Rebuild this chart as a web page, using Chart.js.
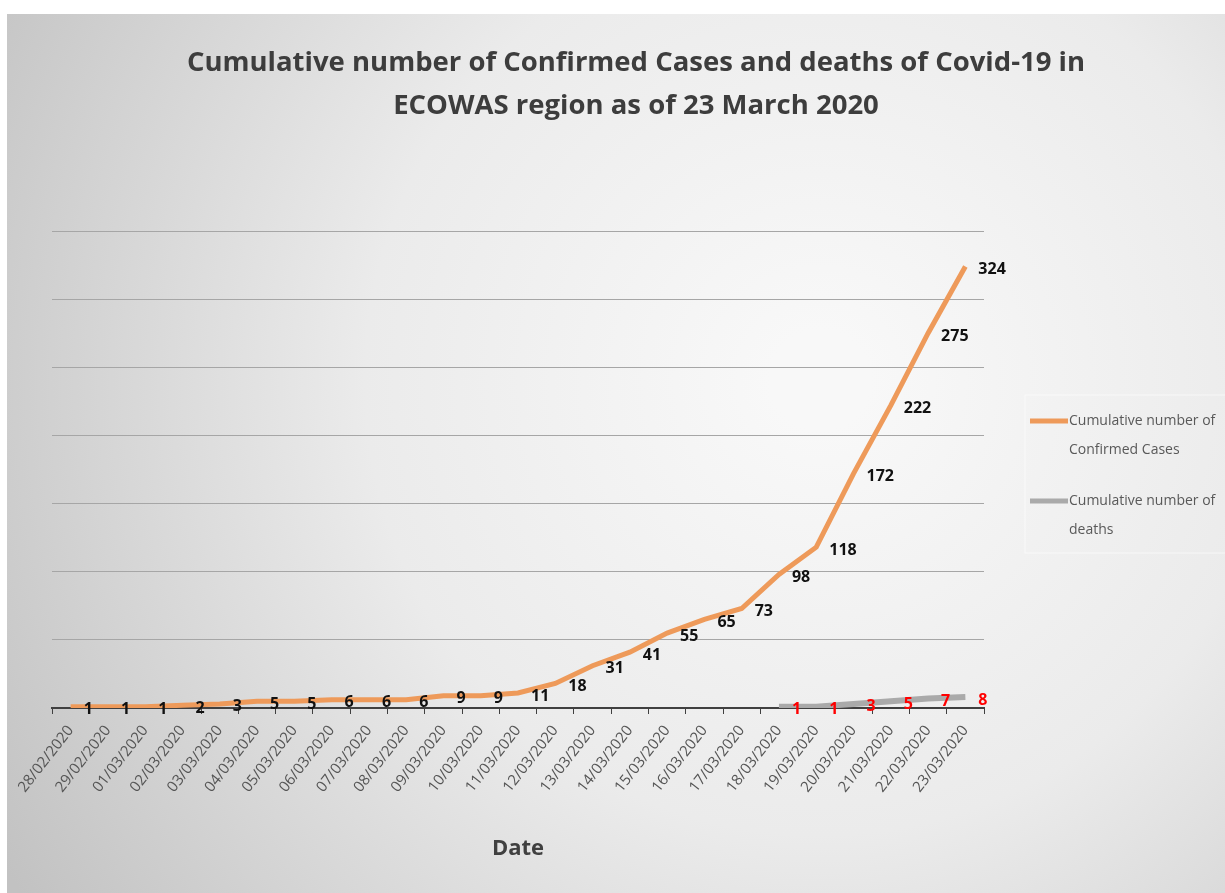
<!DOCTYPE html>
<html>
<head>
<meta charset="utf-8">
<title>ECOWAS Covid-19 cumulative cases</title>
<script src="https://cdn.jsdelivr.net/npm/chart.js@4"></script>
<style>
    html, body { margin: 0; padding: 0; background: #fff; }
    #wrap { width: 1225px; height: 893px; position: relative; }
</style>
</head>
<body>
<div id="wrap"><canvas id="covidChart"></canvas></div>
<script>
// dates on the x axis
const dates = [
    '28/02/2020', '29/02/2020', '01/03/2020', '02/03/2020', '03/03/2020',
    '04/03/2020', '05/03/2020', '06/03/2020', '07/03/2020', '08/03/2020',
    '09/03/2020', '10/03/2020', '11/03/2020', '12/03/2020', '13/03/2020',
    '14/03/2020', '15/03/2020', '16/03/2020', '17/03/2020', '18/03/2020',
    '19/03/2020', '20/03/2020', '21/03/2020', '22/03/2020', '23/03/2020'
];
const confirmedCases = [1, 1, 1, 2, 3, 5, 5, 6, 6, 6, 9, 9, 11, 18, 31, 41, 55, 65, 73, 98, 118, 172, 222, 275, 324];
// deaths only start on 18/03
const deaths = [null, null, null, null, null, null, null, null, null, null,
    null, null, null, null, null, null, null, null, null, 1, 1, 3, 5, 7, 8];
const seriesNames = [
    ['Cumulative number of', 'Confirmed Cases'],
    ['Cumulative number of', 'deaths']
];
const titleLines = [
    'Cumulative number of Confirmed Cases and deaths of Covid-19 in',
    'ECOWAS region as of 23 March 2020'
];
const yMax = 350;
const yStep = 50;

const ORANGE = '#EE9A5A';
const GREY = '#AAAAAA';
const FONT = "'Open Sans', 'Noto Sans', sans-serif";

// background + title + legend + point labels, all drawn on the canvas
const decor = {
    id: 'decor',
    beforeDraw(chart) {
        const { ctx, width, height } = chart;
        ctx.save();
        ctx.fillStyle = '#fff';
        ctx.fillRect(0, 0, width, height);
        const g = ctx.createRadialGradient(820, 380, 50, 820, 380, 950);
        g.addColorStop(0, '#f8f8f8');
        g.addColorStop(0.45, '#ebebeb');
        g.addColorStop(1, '#c2c2c2');
        ctx.fillStyle = g;
        ctx.fillRect(7, 14, width - 7, height - 14);
        ctx.restore();
    },
    afterDatasetsDraw(chart) {
        const ctx = chart.ctx;
        ctx.save();
        ctx.font = 'bold 16px ' + FONT;
        ctx.textAlign = 'left';
        ctx.textBaseline = 'middle';
        chart.data.datasets.forEach((ds, i) => {
            const meta = chart.getDatasetMeta(i);
            ctx.fillStyle = i === 0 ? '#111' : '#FF0000';
            meta.data.forEach((pt, j) => {
                const v = ds.data[j];
                if (v === null) return;
                ctx.fillText(String(v), pt.x + 13, pt.y + 3);
            });
        });
        ctx.restore();
    },
    afterDraw(chart) {
        const ctx = chart.ctx;
        ctx.save();
        // title
        ctx.fillStyle = '#3d3d3d';
        ctx.font = 'bold 27.5px ' + FONT;
        ctx.textAlign = 'center';
        ctx.textBaseline = 'middle';
        titleLines.forEach((t, i) => ctx.fillText(t, 636, 63 + i * 43));

        // legend on the right
        ctx.strokeStyle = 'rgba(255,255,255,0.6)';
        ctx.lineWidth = 1;
        ctx.strokeRect(1025, 395, 205, 158);
        ctx.font = '14px ' + FONT;
        ctx.textAlign = 'left';
        ctx.fillStyle = '#595959';
        const legendY = [421, 501];
        chart.data.datasets.forEach((ds, i) => {
            const y = legendY[i];
            ctx.strokeStyle = ds.borderColor;
            ctx.lineWidth = 5;
            ctx.beginPath();
            ctx.moveTo(1030, y);
            ctx.lineTo(1068, y);
            ctx.stroke();
            seriesNames[i].forEach((line, k) => ctx.fillText(line, 1069, y + k * 29));
        });
        ctx.restore();
    }
};

new Chart(document.getElementById('covidChart'), {
    type: 'line',
    data: {
        labels: dates,
        datasets: [
            {
                label: seriesNames[0].join(' '),
                data: confirmedCases,
                borderColor: ORANGE,
                borderWidth: 5,
                pointRadius: 0,
                tension: 0
            },
            {
                label: seriesNames[1].join(' '),
                data: deaths,
                borderColor: GREY,
                borderWidth: 6,
                pointRadius: 0,
                tension: 0
            }
        ]
    },
    options: {
        responsive: true,
        maintainAspectRatio: false,
        animation: false,
        layout: { padding: { top: 231, left: 52, right: 241, bottom: 0 } },
        plugins: {
            legend: { display: false },
            title: { display: false },
            tooltip: { enabled: false }
        },
        scales: {
            x: {
                offset: true,
                grid: {
                    offset: true,
                    drawOnChartArea: false,
                    drawTicks: true,
                    tickLength: 6,
                    color: '#404040'
                },
                border: { color: '#404040', width: 2 },
                ticks: {
                    color: '#555555',
                    font: { family: FONT, size: 15 },
                    maxRotation: 52,
                    minRotation: 52,
                    autoSkip: false,
                    padding: 8
                },
                title: {
                    display: true,
                    text: 'Date',
                    color: '#404040',
                    font: { family: FONT, size: 22, weight: 'bold' },
                    padding: { top: 0, bottom: 31 }
                },
                afterFit(scale) { scale.height = 185; }
            },
            y: {
                min: 0,
                max: yMax,
                ticks: { display: false, stepSize: yStep },
                grid: { color: '#a6a6a6', lineWidth: 1, drawTicks: false },
                border: { display: false },
                afterFit(scale) { scale.width = 0; }
            }
        }
    },
    plugins: [decor]
});
</script>
</body>
</html>
